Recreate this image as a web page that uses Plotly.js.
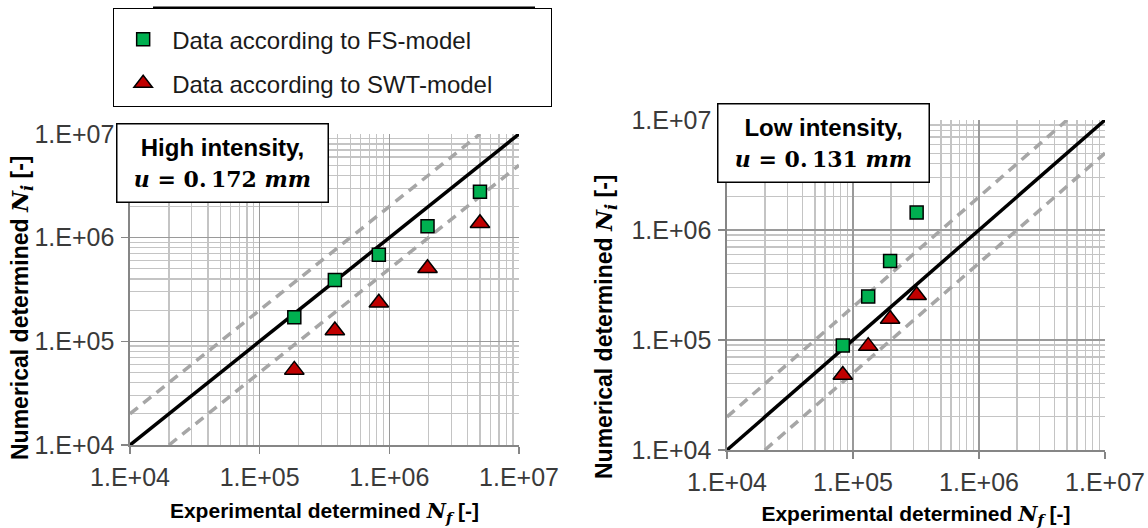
<!DOCTYPE html>
<html>
<head>
<meta charset="utf-8">
<script src="https://cdn.plot.ly/plotly-3.0.1.min.js"></script>
<style>html,body{margin:0;padding:0;background:#fff;}#chart{width:1148px;height:528px;}</style>
</head>
<body>
<div id="chart"></div>
<script>
// ---- data ----
const seriesNames = ["Data according to FS-model", "Data according to SWT-model"];

// High intensity (left panel)
const highExpNf   = [1.85e5, 3.8e5, 8.3e5, 1.97e6, 5.0e6];
const highFsNi    = [1.71e5, 3.9e5, 6.85e5, 1.29e6, 2.78e6];
const highSwtNi   = [5.3e4, 1.27e5, 2.36e5, 5.07e5, 1.38e6];

// Low intensity (right panel)
const lowExpNf    = [8.3e4, 1.32e5, 1.97e5, 3.2e5];
const lowFsNi     = [8.9e4, 2.48e5, 5.22e5, 1.44e6];
const lowSwtNi    = [4.8e4, 8.8e4, 1.55e5, 2.55e5];

// reference lines: Ni = Nf, Ni = 2 Nf, Ni = Nf / 2
const lineEqualX  = [1e4, 1e7];
const lineEqualY  = [1e4, 1e7];
const lineUpperX  = [1e4, 5e6];
const lineUpperY  = [2e4, 1e7];
const lineLowerX  = [2e4, 1e7];
const lineLowerY  = [1e4, 5e6];

const tickValues  = [1e4, 1e5, 1e6, 1e7];
const tickLabels  = ["1.E+04", "1.E+05", "1.E+06", "1.E+07"];

const panelLabels = ["High intensity,", "Low intensity,"];
const panelU      = ["0.&#8201;172", "0.&#8201;131"];

// ---- styling ----
const GREEN = "#00B050", RED = "#C00000";
const sans = "Liberation Sans, Arial, sans-serif";

function refLines(xa, ya) {
  return [
    {x: lineUpperX, y: lineUpperY, xaxis: xa, yaxis: ya, mode: "lines", showlegend: false, hoverinfo: "skip",
     line: {color: "#A6A6A6", width: 3.5, dash: "10px,7px"}},
    {x: lineLowerX, y: lineLowerY, xaxis: xa, yaxis: ya, mode: "lines", showlegend: false, hoverinfo: "skip",
     line: {color: "#A6A6A6", width: 3.5, dash: "10px,7px"}},
    {x: lineEqualX, y: lineEqualY, xaxis: xa, yaxis: ya, mode: "lines", showlegend: false, hoverinfo: "skip",
     line: {color: "#000000", width: 3.5}}
  ];
}

function pts(x, y, xa, ya, which, show) {
  const isFs = which === 0;
  return {
    x: x, y: y, xaxis: xa, yaxis: ya, mode: "markers", type: "scatter",
    name: isFs ? seriesNames[0] : seriesNames[1] + "&nbsp;&nbsp;&nbsp;&nbsp;&nbsp;&nbsp;&nbsp;&nbsp;",
    legendgroup: isFs ? "fs" : "swt", showlegend: show,
    marker: isFs
      ? {symbol: "square", size: 13, color: GREEN, line: {color: "#000", width: 1.5}}
      : {symbol: "triangle-up", size: 17, color: RED, line: {color: "#000", width: 1.5}}
  };
}

const data = [].concat(
  refLines("x", "y"),
  refLines("x2", "y2"),
  [pts(highExpNf, highFsNi, "x", "y", 0, true),
   pts(highExpNf, highSwtNi, "x", "y", 1, true),
   pts(lowExpNf, lowFsNi, "x2", "y2", 0, false),
   pts(lowExpNf, lowSwtNi, "x2", "y2", 1, false)]
);

function axis(domain, anchor, isX) {
  return {
    type: "log", range: [4, 7], domain: domain, anchor: anchor,
    tickmode: "array", tickvals: tickValues, ticktext: tickLabels,
    showgrid: true, gridcolor: "#9A9A9A", gridwidth: 1.4,
    minor: {dtick: "D1", showgrid: true, gridcolor: "#C4C4C4", gridwidth: 1.2, ticks: ""},
    showline: true, linecolor: "#868686", linewidth: 1.6,
    ticks: "outside", ticklen: 7, tickcolor: "#868686", tickwidth: 1.6,
    ticklabelstandoff: 2,
    tickfont: {family: sans, size: 25, color: "#3a3a3a"},
    zeroline: false, mirror: false, fixedrange: true
  };
}

const xTitleText = "<b>Experimental determined <span style='font-family:DejaVu Serif'><i>N</i><sub><i>f</i></sub></span> [-]</b>";
const yTitleText = "<b>Numerical determined <span style='font-family:DejaVu Serif'><i>N</i><sub><i>i</i></sub></span> [-]</b>";

const xa1 = axis([0.11324, 0.45209], "y", true);
xa1.title = {text: xTitleText, font: {family: sans, size: 21, color: "#000"}, standoff: 14};
const xa2 = axis([0.63328, 0.96254], "y2", true);
xa2.title = {text: xTitleText, font: {family: sans, size: 21, color: "#000"}, standoff: 14};

function boxText(i) {
  return "<b>" + panelLabels[i] + "</b><br><span style='font-family:DejaVu Serif;font-size:22px'><b><i>u</i> = " +
         panelU[i] + " <i>mm</i></b></span>";
}

const layout = {
  width: 1148, height: 528,
  margin: {l: 0, r: 0, t: 0, b: 0},
  paper_bgcolor: "#ffffff", plot_bgcolor: "#ffffff",
  showlegend: true,
  xaxis: xa1,
  yaxis: axis([0.15720, 0.74621], "x", false),
  xaxis2: xa2,
  yaxis2: axis([0.14773, 0.77273], "x2", false),
  legend: {
    x: 0.0984, y: 0.9848, xanchor: "left", yanchor: "top",
    bgcolor: "#ffffff", bordercolor: "#000000", borderwidth: 1.2,
    font: {family: sans, size: 24, color: "#1a1a1a"},
    title: {text: " ", font: {size: 6}},
    itemwidth: 48,
    tracegroupgap: 10
  },
  annotations: [
    {xref: "paper", yref: "paper", x: 0.1938, y: 0.6913, xanchor: "center", yanchor: "middle",
     text: boxText(0), showarrow: false, align: "center",
     font: {family: sans, size: 24, color: "#000"},
     bgcolor: "#ffffff", bordercolor: "#000000", borderwidth: 1.5, borderpad: 2, width: 206, height: 73},
    {xref: "paper", yref: "paper", x: 0.7169, y: 0.7292, xanchor: "center", yanchor: "middle",
     text: boxText(1), showarrow: false, align: "center",
     font: {family: sans, size: 24, color: "#000"},
     bgcolor: "#ffffff", bordercolor: "#000000", borderwidth: 1.5, borderpad: 2, width: 206, height: 73},
    {xref: "paper", yref: "paper", x: 21 / 1148, y: 1 - 308 / 528, xanchor: "center", yanchor: "middle",
     text: yTitleText, textangle: -90, showarrow: false, font: {family: sans, size: 23, color: "#000"}},
    {xref: "paper", yref: "paper", x: 605 / 1148, y: 1 - 326 / 528, xanchor: "center", yanchor: "middle",
     text: yTitleText, textangle: -90, showarrow: false, font: {family: sans, size: 23, color: "#000"}}
  ],
  shapes: [
    {type: "line", xref: "paper", yref: "paper", x0: 153 / 1148, x1: 535 / 1148, y0: 1 - 8 / 528, y1: 1 - 8 / 528,
     line: {color: "#000", width: 3}, layer: "above"}
  ]
};

Plotly.newPlot("chart", data, layout, {staticPlot: true, displayModeBar: false});
</script>
</body>
</html>
